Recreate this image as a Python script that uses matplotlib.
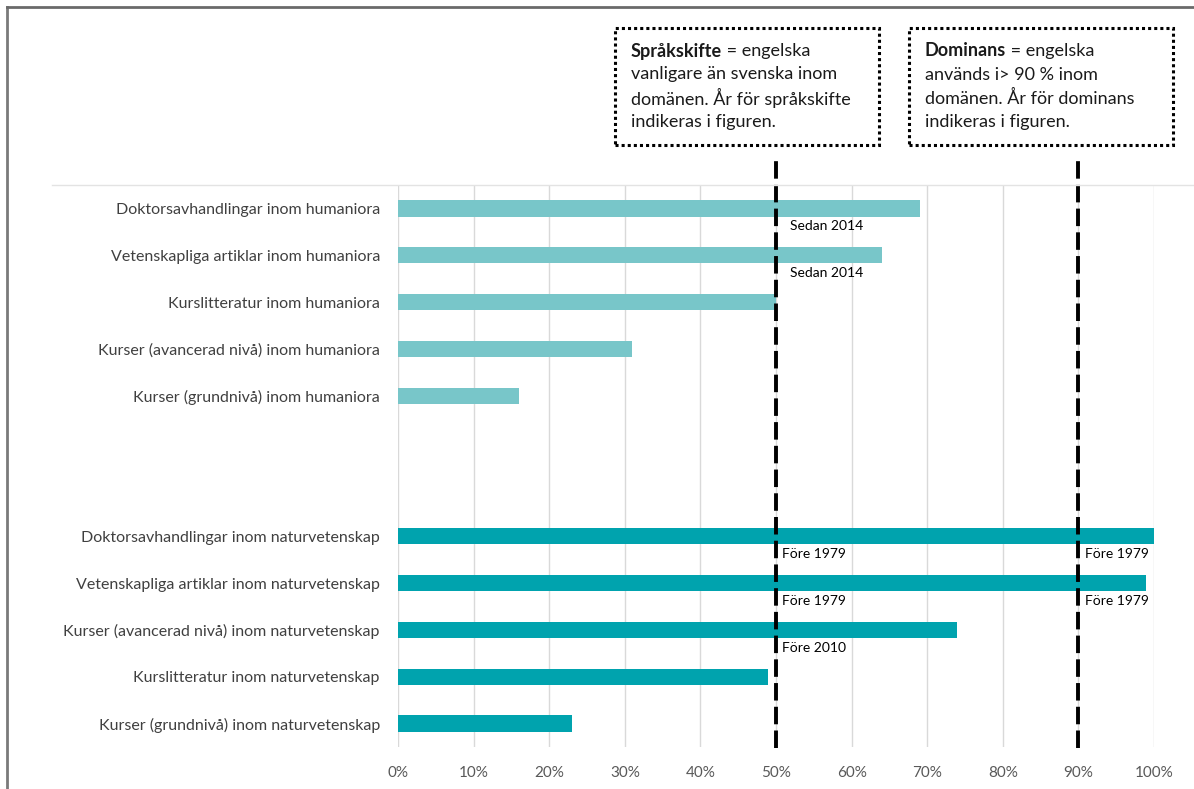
import matplotlib.pyplot as plt
from matplotlib.lines import Line2D

plt.rcParams['font.family'] = ['Lato', 'DejaVu Sans']

# Data
categories = [
    'Doktorsavhandlingar inom humaniora',
    'Vetenskapliga artiklar inom humaniora',
    'Kurslitteratur inom humaniora',
    'Kurser (avancerad nivå) inom humaniora',
    'Kurser (grundnivå) inom humaniora',
    '',
    '',
    'Doktorsavhandlingar inom naturvetenskap',
    'Vetenskapliga artiklar inom naturvetenskap',
    'Kurser (avancerad nivå) inom naturvetenskap',
    'Kurslitteratur inom naturvetenskap',
    'Kurser (grundnivå) inom naturvetenskap',
]
values = [69, 64, 50, 31, 16, None, None, 100, 99, 74, 49, 23]
groups = ['hum', 'hum', 'hum', 'hum', 'hum', None, None,
          'nat', 'nat', 'nat', 'nat', 'nat']
xticks = [0, 10, 20, 30, 40, 50, 60, 70, 80, 90, 100]

# Tröskelvärden (språkskifte / dominans)
thresholds = [50, 90]

# Årsangivelser: rad, tröskel, text
ann_rows = [0, 1, 7, 7, 8, 8, 9]
ann_thr = [50, 50, 50, 90, 50, 90, 50]
ann_text = ['Sedan 2014', 'Sedan 2014', 'Före 1979', 'Före 1979',
            'Före 1979', 'Före 1979', 'Före 2010']

colors = {'hum': '#78C6C9', 'nat': '#00A3AE'}

fig = plt.figure(figsize=(11.94, 7.89), dpi=100)
ax = fig.add_axes([398 / 1194, 1 - 747 / 789, 756 / 1194, 562 / 789])

# Vertikala rutnätslinjer
for t in xticks:
    ax.axvline(t, color='#D9D9D9', lw=1.0, zorder=0)

for i, (v, g) in enumerate(zip(values, groups)):
    if v is None:
        continue
    ax.barh(i, v, height=0.35, color=colors[g], zorder=2)

ax.set_xlim(0, 100)
ax.set_ylim(11.5, -0.5)
ax.set_yticks(range(len(categories)))
ax.set_yticklabels(categories, fontsize=11.5, color='#404040')
ax.set_xticks(xticks)
ax.set_xticklabels([f'{t}%' for t in xticks], fontsize=11, color='#595959')
ax.tick_params(axis='both', length=0)
ax.tick_params(axis='y', pad=13)
ax.tick_params(axis='x', pad=14)
for s in ax.spines.values():
    s.set_visible(False)

# Streckade linjer för tröskelvärden
for t in thresholds:
    ax.plot([t, t], [11.52, -1.13], color='black', lw=2.8,
            dashes=(4.5, 1.6), clip_on=False, zorder=4)

for r, t, txt in zip(ann_rows, ann_thr, ann_text):
    dx = 1.9 if txt.startswith('Sedan') else 0.85
    ax.text(t + dx, r + 0.38, txt, fontsize=10, color='black',
            va='center', ha='left', zorder=5)

# Övre linje och ram
fig.add_artist(Line2D([52 / 1194, 1.0], [1 - 185 / 789] * 2,
                      color='#E3E3E3', lw=1.0))
fig.add_artist(Line2D([7 / 1194, 7 / 1194], [0, 1 - 7 / 789],
                      color='#7A7A7A', lw=2.0))
fig.add_artist(Line2D([7 / 1194, 1.0], [1 - 7 / 789] * 2,
                      color='#6A6A6A', lw=2.0))

# Förklaringsrutor
boxes = [
    (615, ['Språkskifte', ' = engelska'],
     ['vanligare än svenska inom', 'domänen. År för språkskifte',
      'indikeras i figuren.']),
    (909, ['Dominans', ' = engelska'],
     ['används i> 90 % inom', 'domänen. År för dominans',
      'indikeras i figuren.']),
]
for x0, first, rest in boxes:
    rect = plt.Rectangle((x0 / 1194, 1 - 145 / 789), 264 / 1194, 117 / 789,
                         transform=fig.transFigure, fill=False,
                         ec='black', lw=2.2, ls=(0, (1, 1)))
    fig.add_artist(rect)
    tx = (x0 + 16) / 1194
    ty = 1 - 51 / 789
    t1 = fig.text(tx, ty, first[0], fontsize=13, fontweight='bold',
                  va='center', ha='left', color='#1A1A1A')
    fig.canvas.draw()
    bb = t1.get_window_extent()
    fig.text(bb.x1 / fig.bbox.width, ty, first[1], fontsize=13,
             va='center', ha='left', color='#1A1A1A')
    for k, line in enumerate(rest):
        fig.text(tx, ty - (k + 1) * 23.5 / 789, line, fontsize=13,
                 va='center', ha='left', color='#1A1A1A')

fig.savefig('out.png', dpi=100)
